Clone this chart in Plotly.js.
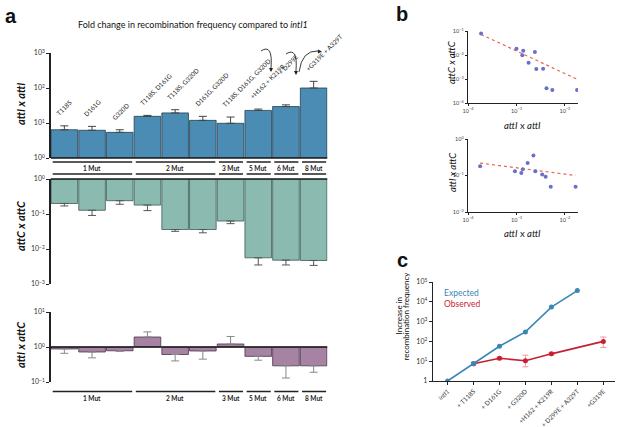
<!DOCTYPE html>
<html><head><meta charset="utf-8">
<script src="https://cdn.plot.ly/plotly-3.0.1.min.js"></script>
<style>html,body{margin:0;padding:0;background:#fff}#chart{width:617px;height:427px}</style>
</head><body><div id="chart"></div>
<script>
// ---------- DATA ----------
const mutLabels = ["T118S","D161G","G320D","T118S, D161G","T118S, G320D","D161G, G320D","T118S, D161G, G320D","+H162 + K219R","+ D299E","+G319E + A329T"];
const attIattI    = [6.4, 6.2, 5.4, 15.5, 19.4, 11.9, 9.8, 22.9, 29.5, 100];
const attIattIHi  = [8.3, 8.0, 6.4, 16.5, 24, 15.5, 14.8, 25, 33, 155];
const attCattC    = [0.20, 0.128, 0.24, 0.18, 0.036, 0.036, 0.063, 0.0056, 0.0048, 0.0047];
const attCattCLo  = [0.17, 0.091, 0.19, 0.125, 0.032, 0.029, 0.053, 0.0035, 0.0035, 0.0034];
const attIattC    = [0.88, 0.72, 0.78, 1.93, 0.61, 0.77, 1.22, 0.54, 0.29, 0.29];
const attIattCEnd = [0.66, 0.49, 0.75, 2.7, 0.40, 0.45, 2.0, 0.42, 0.13, 0.19];
const groupNames = ["1 Mut","2 Mut","3 Mut","5 Mut","6 Mut","8 Mut"];
const groupFirst = [0, 3, 6, 7, 8, 9];
const groupLast  = [2, 5, 6, 7, 8, 9];

const bTopX = [1.86e-4, 1.0e-3, 1.32e-3, 1.38e-3, 1.78e-3, 2.4e-3, 2.57e-3, 3.55e-3, 4.17e-3, 5.5e-3, 1.78e-2];
const bTopY = [0.079, 0.018, 0.0098, 0.015, 0.0048, 0.0133, 0.0026, 0.0027, 4.1e-4, 3.5e-4, 3.5e-4];
const bTopFitX = [1.86e-4, 1.74e-2];
const bTopFitY = [0.072, 1.0e-3];
const bBotX = [1.78e-4, 9.3e-4, 1.26e-3, 1.35e-3, 1.7e-3, 2.24e-3, 2.45e-3, 3.4e-3, 4.0e-3, 5.1e-3, 1.66e-2];
const bBotY = [0.18, 0.13, 0.117, 0.148, 0.22, 0.355, 0.13, 0.107, 0.093, 0.049, 0.049];
const bBotFitX = [1.78e-4, 1.66e-2];
const bBotFitY = [0.219, 0.10];

const cCats = ["intI1","+ T118S","+ D161G","+ G320D","+H162 + K219R","+ D299E + A329T","+G319E"];
const cTickText = ["<i>intI1</i>","+ T118S","+ D161G","+ G320D","+H162 + K219R","+ D299E + A329T","+G319E"];
const expected = [1, 7.5, 57, 300, 5400, 37000, null];
const observed = [null, 7.5, 14, 10.5, 23.5, null, 100];
const observedHi = [null, 9, 16, 20, 26, null, 167];
const observedLo = [null, 6.3, 12, 5.2, 21, null, 49];

// ---------- HELPERS ----------
const W = 617, H = 427;
const dx = (a, b) => [a / W, b / W];
const dy = (top, bot) => [1 - bot / H, 1 - top / H];
const px = x => x / W, py = y => 1 - y / H;
const P = (x, y) => (x / W).toFixed(4) + ' ' + (1 - y / H).toFixed(4);
const sup = (p) => '10<sup>' + (p < 0 ? '\u2212' + (-p) : p) + '</sup>';
const FONT = 'Lato, "Open Sans", sans-serif';
const zeros = attIattI.map(() => 0);

const axBase = {showline: true, linecolor: '#222', linewidth: 1.3, ticks: 'outside', ticklen: 3,
  tickwidth: 1, tickcolor: '#222', showgrid: false, zeroline: false, tickfont: {size: 7, color: '#333', family: FONT}};

const barX = {domain: dx(50.5, 327.5), range: [-0.5, 9.5], visible: false, type: 'category'};

// ---------- TRACES ----------
const traces = [];
traces.push({type: 'bar', x: mutLabels, y: attIattI.map(v => v - 1), base: 1, xaxis: 'x', yaxis: 'y',
  marker: {color: '#4a8cb3', line: {color: '#263f4f', width: 0.8}},
  error_y: {type: 'data', symmetric: false, array: attIattIHi.map((e, i) => e - attIattI[i]), arrayminus: zeros,
    color: '#444', thickness: 1, width: 4}, hoverinfo: 'none'});
traces.push({type: 'bar', x: mutLabels, y: attCattC.map(v => v - 1), base: 1, xaxis: 'x2', yaxis: 'y2',
  marker: {color: '#8bbab1', line: {color: '#3c5955', width: 0.8}},
  error_y: {type: 'data', symmetric: false, array: zeros, arrayminus: attCattCLo.map((e, i) => attCattC[i] - e),
    color: '#555', thickness: 1, width: 4}, hoverinfo: 'none'});
traces.push({type: 'bar', x: mutLabels, y: attIattC.map(v => v - 1), base: 1, xaxis: 'x3', yaxis: 'y3',
  marker: {color: '#a682a3', line: {color: '#4a3447', width: 0.8}},
  error_y: {type: 'data', symmetric: false,
    array: attIattC.map((v, i) => v >= 1 ? attIattCEnd[i] - v : 0),
    arrayminus: attIattC.map((v, i) => v < 1 ? v - attIattCEnd[i] : 0),
    color: '#888', thickness: 1, width: 4}, hoverinfo: 'none'});

traces.push({type: 'scatter', mode: 'lines', x: bTopFitX, y: bTopFitY, xaxis: 'x4', yaxis: 'y4',
  line: {color: '#e8654f', width: 1.2, dash: 'dot'}});
traces.push({type: 'scatter', mode: 'markers', x: bTopX, y: bTopY, xaxis: 'x4', yaxis: 'y4',
  marker: {size: 4, color: '#6a6fca'}});
traces.push({type: 'scatter', mode: 'lines', x: bBotFitX, y: bBotFitY, xaxis: 'x5', yaxis: 'y5',
  line: {color: '#e8654f', width: 1.2, dash: 'dot'}});
traces.push({type: 'scatter', mode: 'markers', x: bBotX, y: bBotY, xaxis: 'x5', yaxis: 'y5',
  marker: {size: 4, color: '#6a6fca'}});

traces.push({type: 'scatter', mode: 'lines+markers', x: cCats, y: observed, xaxis: 'x6', yaxis: 'y6',
  connectgaps: true, line: {color: '#c81e32', width: 1.6}, marker: {size: 5, color: '#c81e32'},
  error_y: {type: 'data', symmetric: false,
    array: observed.map((v, i) => v == null ? 0 : observedHi[i] - v),
    arrayminus: observed.map((v, i) => v == null ? 0 : v - observedLo[i]),
    color: '#eb9aa3', thickness: 1, width: 3}});
traces.push({type: 'scatter', mode: 'lines+markers', x: cCats, y: expected, xaxis: 'x6', yaxis: 'y6',
  line: {color: '#3a86b4', width: 1.6}, marker: {size: 5, color: '#3a86b4'}});

// ---------- ANNOTATIONS & SHAPES ----------
const ann = [];
const shapes = [];
const txt = (text, x, y, size, color, extra) => ann.push(Object.assign({text: text, x: px(x), y: py(y),
  xref: 'paper', yref: 'paper', xanchor: 'center', yanchor: 'middle', showarrow: false,
  font: {size: size, family: FONT, color: color || '#111'}}, extra || {}));
const letter = (t, x, y) => txt('<b>' + t + '</b>', x, y, 20, '#111', {font: {size: 20, family: 'Liberation Sans, Arial, sans-serif', color: '#111'}});
letter('a', 11, 16); letter('b', 402, 14); letter('c', 402, 260);

txt('Fold change in recombination frequency compared to <i>intI1</i>', 193, 25, 9);

const yTitle = (t, x, y, size, bold) => txt(bold ? '<b><i>' + t + '</i></b>' : '<i>' + t + '</i>', x, y, size, '#111', {textangle: -90});
yTitle('attI x attI', 20, 104, 11, true);
yTitle('attC x attC', 20, 226, 11, true);
yTitle('attI x attC', 20, 345, 11, true);
yTitle('attC x attC', 452, 62, 9.5, false);
yTitle('attI x attC', 452, 172, 9.5, false);
txt('<i>attI</i> x <i>attI</i>', 522, 125, 9.5);
txt('<i>attI</i> x <i>attI</i>', 522, 233, 9.5);

// rotated mutation labels above bars
const labelExtraLift = {8: 20};
mutLabels.forEach((t, i) => ann.push({text: t, x: i, y: Math.log10(attIattIHi[i]), xref: 'x', yref: 'y',
  textangle: -45, xanchor: 'left', yanchor: 'bottom', showarrow: false, xshift: -12, yshift: 6 + (labelExtraLift[i] || 0),
  font: {size: 6.3, family: FONT, color: '#222'}}));

// group labels and lines
const groupRow = (lineYs, textY) => {
  groupNames.forEach((g, k) => {
    ann.push({text: '<b>' + g + '</b>', x: (groupFirst[k] + groupLast[k]) / 2, y: py(textY), xref: 'x', yref: 'paper',
      xanchor: 'center', yanchor: 'middle', showarrow: false, font: {size: 6.5, family: FONT, color: '#222'}});
    lineYs.forEach(ly => shapes.push({type: 'line', xref: 'x', yref: 'paper', x0: groupFirst[k] - 0.42, x1: groupLast[k] + 0.45,
      y0: py(ly), y1: py(ly), line: {color: '#222', width: 1.3}}));
  });
};
groupRow([162, 174], 168);
groupRow([391.5], 398.5);

// baselines at 10^0
shapes.push({type: 'line', xref: 'x', yref: 'y domain', x0: -0.5, x1: 9.5, y0: 0, y1: 0, line: {color: '#1a1a1a', width: 1.5}});
shapes.push({type: 'line', xref: 'x2', yref: 'y2 domain', x0: -0.5, x1: 9.5, y0: 1, y1: 1, line: {color: '#1a1a1a', width: 1.5}});
shapes.push({type: 'line', xref: 'x3', yref: 'y3 domain', x0: -0.5, x1: 9.5, y0: 0.5, y1: 0.5, line: {color: '#1a1a1a', width: 1.5}});

// curved arrows between labels
const curve = (d) => shapes.push({type: 'path', xref: 'paper', yref: 'paper', path: d, line: {color: '#222', width: 0.9}});
curve('M ' + P(261, 51) + ' Q ' + P(273, 43) + ' ' + P(271, 68));
curve('M ' + P(286, 54) + ' Q ' + P(298, 46) + ' ' + P(296, 71));
curve('M ' + P(299, 72) + ' Q ' + P(302, 50) + ' ' + P(318, 51));
const head = (x, y, ax, ay) => ann.push({text: '', x: px(x), y: py(y), xref: 'paper', yref: 'paper', showarrow: true,
  ax: ax, ay: ay, arrowhead: 2, arrowsize: 0.9, arrowwidth: 0.9, arrowcolor: '#222', standoff: 0});
head(271, 72, 0, -5);
head(296, 75, 0, -5);
head(322, 51.5, -5, 0);

// panel c legend + title
txt('Expected', 442, 293, 8.5, '#3a86b4', {xanchor: 'left'});
txt('Observed', 442, 304, 8.5, '#c81e32', {xanchor: 'left'});
txt('Increase in', 398.5, 316, 8, '#111', {textangle: -90});
txt('recombination frequency', 405.5, 316, 8, '#111', {textangle: -90});

// ---------- LAYOUT ----------
const logTicksA = (a, b) => { const v = [], t = []; for (let p = a; p <= b; p++) { v.push(Math.pow(10, p)); t.push(sup(p)); } return {tickvals: v, ticktext: t}; };
const bTick = {...axBase, linewidth: 1.2, ticklen: 2, tickfont: {size: 5.5, color: '#444', family: FONT}};

const layout = {
  width: W, height: H, margin: {l: 0, r: 0, t: 0, b: 0}, paper_bgcolor: '#fff', plot_bgcolor: 'rgba(0,0,0,0)',
  showlegend: false, bargap: 0.04, font: {family: FONT},
  xaxis: {...barX, anchor: 'y'},
  yaxis: {...axBase, domain: dy(53, 158), type: 'log', range: [0, 3], anchor: 'x', ...logTicksA(0, 3)},
  xaxis2: {...barX, anchor: 'y2'},
  yaxis2: {...axBase, domain: dy(179, 284), type: 'log', range: [-3, 0], anchor: 'x2', ...logTicksA(-3, 0)},
  xaxis3: {...barX, anchor: 'y3'},
  yaxis3: {...axBase, domain: dy(312, 382), type: 'log', range: [-1, 1], anchor: 'x3', ...logTicksA(-1, 1)},
  xaxis4: {...bTick, domain: dx(468, 578), type: 'log', range: [-4, -1.73], anchor: 'y4', ...logTicksA(-4, -2)},
  yaxis4: {...bTick, domain: dy(31, 103), type: 'log', range: [-4, -1], anchor: 'x4', ...logTicksA(-4, -1)},
  xaxis5: {...bTick, domain: dx(468, 578), type: 'log', range: [-4, -1.73], anchor: 'y5', ...logTicksA(-4, -2)},
  yaxis5: {...bTick, domain: dy(139, 212), type: 'log', range: [-2, 0], anchor: 'x5', ...logTicksA(-2, 0)},
  xaxis6: {...axBase, domain: dx(433, 615), type: 'category', range: [-0.56, 6.45], anchor: 'y6',
    tickvals: cCats, ticktext: cTickText, tickangle: -45, tickfont: {size: 6.3, color: '#333', family: FONT}},
  yaxis6: {...axBase, domain: dy(282, 381), type: 'log', range: [0, 5], anchor: 'x6',
    tickvals: [1, 10, 100, 1000, 1e4, 1e5], ticktext: ['1', sup(1), sup(2), sup(3), sup(4), sup(5)]},
  annotations: ann, shapes: shapes
};

Plotly.newPlot('chart', traces, layout, {staticPlot: true, displayModeBar: false});
</script></body></html>
